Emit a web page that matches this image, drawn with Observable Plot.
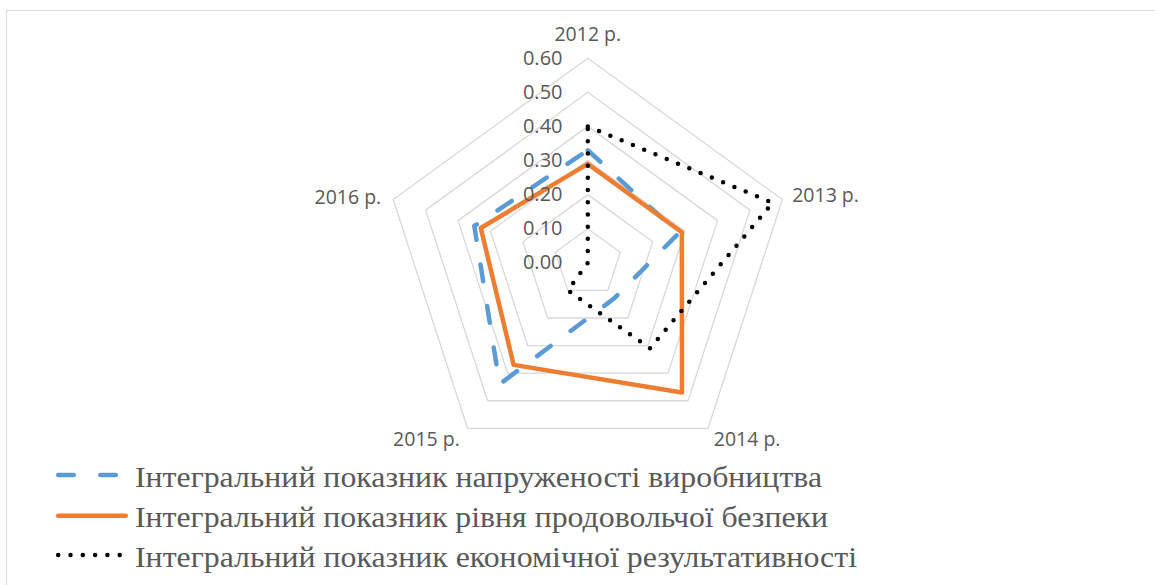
<!DOCTYPE html>
<html><head><meta charset="utf-8">
<script src="https://cdn.jsdelivr.net/npm/d3@7"></script>
<script src="https://cdn.jsdelivr.net/npm/@observablehq/plot@0.6"></script>
<style>
html,body{margin:0;padding:0;background:#fff}
body{width:1155px;height:585px;overflow:hidden;position:relative}
#chart{position:absolute;left:0;top:0}
#legend{position:absolute;left:0;top:455px}
#legend svg text{font-family:"Liberation Serif",Tinos,"Noto Serif","DejaVu Serif",Georgia,Times,serif !important}
#frame{position:absolute;left:6px;top:10px;right:-2px;bottom:-2px;border-left:1.6px solid #d9d9d9;border-top:1.4px solid #d9d9d9;pointer-events:none}
</style></head><body>
<div id="chart"></div>
<div id="legend"></div>
<div id="frame"></div>
<script>
// ---- data ----
const categories = ["2012 р.", "2013 р.", "2014 р.", "2015 р.", "2016 р."];
const seriesNames = [
  "Інтегральний показник напруженості виробництва",
  "Інтегральний показник рівня продовольчої безпеки",
  "Інтегральний показник економічної результативності"
];
const productionTension = [0.33, 0.28, 0.13, 0.44, 0.35];
const foodSecurity = [0.29, 0.29, 0.47, 0.37, 0.33];
const economicPerformance = [0.40, 0.57, 0.31, 0.10, 0.00];
const tickValues = [0, 0.1, 0.2, 0.3, 0.4, 0.5, 0.6];
const tickLabels = ["0.00", "0.10", "0.20", "0.30", "0.40", "0.50", "0.60"];

// ---- layout ----
const W = 1155, H = 455;
const cx = 587.3, cy = 262.3, pxPerUnit = 341;
const angle = i => i * 2 * Math.PI / categories.length;
const px = (v, i) => v * Math.sin(angle(i));
const py = (v, i) => v * Math.cos(angle(i));

const seriesValues = [productionTension, foodSecurity, economicPerformance];
const seriesStyles = [
  {stroke: "#5B9BD5", strokeWidth: 4.5, strokeDasharray: "17 25", strokeLinecap: "round", strokeLinejoin: "round"},
  {stroke: "#ED7D31", strokeWidth: 4.5, strokeLinecap: "round", strokeLinejoin: "round"},
  {stroke: "#000000", strokeWidth: 4.5, strokeDasharray: "0 12.2", strokeLinecap: "round", strokeLinejoin: "round"}
];

const closed = vals => [...vals.map((v, i) => ({i, v})), {i: 0, v: vals[0]}];

const gridRows = tickValues.filter(t => t > 0).flatMap(t =>
  [0, 1, 2, 3, 4, 5].map(k => ({t, i: k % 5, v: t})));

const labelOffsets = [
  {dx: 0, dy: -17.7, anchor: "middle"},
  {dx: 9.8, dy: 2.6, anchor: "start"},
  {dx: 5.7, dy: 17.2, anchor: "start"},
  {dx: -7.7, dy: 17.2, anchor: "end"},
  {dx: -12, dy: 4.2, anchor: "end"}
];
const outer = tickValues[tickValues.length - 1];

const font = "'Open Sans', 'Liberation Sans', sans-serif";

const marks = [
  Plot.line(gridRows, {x: d => px(d.v, d.i), y: d => py(d.v, d.i), z: "t", stroke: "#d9d9d9", strokeWidth: 1.3}),
  ...seriesValues.map((vals, s) => Plot.line(closed(vals), {
    x: d => px(d.v, d.i), y: d => py(d.v, d.i), ...seriesStyles[s]
  })),
  Plot.text(tickValues, {
    x: () => 0, y: d => d, text: (d, i) => tickLabels[i],
    dx: -25.3, textAnchor: "end", lineAnchor: "middle",
    fontSize: 20, fontFamily: font, fill: "#595959"
  }),
  ...categories.map((c, i) => Plot.text([c], {
    x: () => px(outer, i), y: () => py(outer, i), text: d => d,
    dx: labelOffsets[i].dx, dy: labelOffsets[i].dy,
    textAnchor: labelOffsets[i].anchor, lineAnchor: "bottom",
    fontSize: 19.5, fontFamily: font, fill: "#595959"
  }))
];

const chart = Plot.plot({
  width: W, height: H,
  margin: 0,
  x: {domain: [-cx / pxPerUnit, (W - cx) / pxPerUnit], range: [0, W], axis: null},
  y: {domain: [-(H - cy) / pxPerUnit, cy / pxPerUnit], range: [H, 0], axis: null},
  style: {background: "transparent", fontFamily: font, color: "#595959", overflow: "visible"},
  marks
});
document.getElementById("chart").appendChild(chart);

// ---- legend (below the plot) ----
const leg = d3.select("#legend").append("svg")
  .attr("width", W).attr("height", 130)
  .style("display", "block");
const rowLineY = [20, 60.7, 100];
const rowTextY = [32.3, 71.8, 111.7];
const rowTextWidth = [687, 693, 722];
const swatchEnds = [[58.3, 117.8], [58.2, 125.8], [58.2, 120]];
seriesNames.forEach((name, s) => {
  const st = seriesStyles[s];
  leg.append("line")
    .attr("x1", swatchEnds[s][0]).attr("x2", swatchEnds[s][1])
    .attr("y1", rowLineY[s]).attr("y2", rowLineY[s])
    .attr("stroke", st.stroke).attr("stroke-width", st.strokeWidth)
    .attr("stroke-linecap", "round")
    .attr("stroke-dasharray", s === 0 ? "15.5 26.5" : s === 2 ? "0 12.3" : null);
  leg.append("text")
    .attr("x", 135).attr("y", rowTextY[s])
    .attr("font-size", 29)
    .attr("textLength", rowTextWidth[s])
    .attr("lengthAdjust", "spacingAndGlyphs")
    .attr("fill", "#595959")
    .text(name);
});
</script>
</body></html>
